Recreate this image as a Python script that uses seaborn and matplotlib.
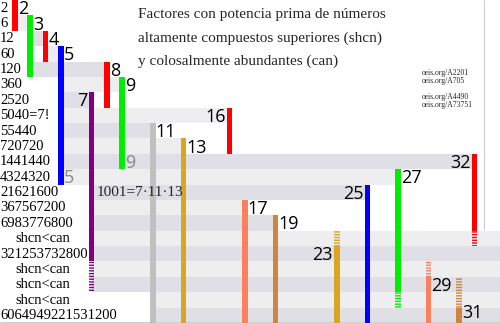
import matplotlib
matplotlib.use("Agg")
import matplotlib.pyplot as plt
import seaborn as sns

# ---------------- data ----------------
row_labels = ["2", "6", "12", "60", "120", "360", "2520", "5040=7!", "55440",
              "720720", "1441440", "4324320", "21621600", "367567200",
              "6983776800", "shcn<can", "321253732800", "shcn<can",
              "shcn<can", "shcn<can", "6064949221531200"]

# prime-power factors (column = factor value)
factor_values = [2, 3, 4, 5, 8, 9, 7, 16, 11, 13, 32, 27, 25, 17, 19, 23, 29, 31]
factor_primes = [2, 3, 2, 5, 2, 3, 7, 2, 11, 13, 2, 3, 5, 17, 19, 23, 29, 31]
solid_first = [0, 1, 2, 3, 4, 5, 6, 7, 8, 9, 10, 11, 12, 13, 14, 16, 18, 20]
solid_last = [1, 4, 3, 11, 6, 10, 16, 9, 20, 20, 14, 18, 20, 20, 20, 20, 20, 20]
dashed_first = [None, None, None, None, None, None, 17, None, None, None, 15, 19,
                None, None, None, 15, 17, 18]
dashed_last = [None, None, None, None, None, None, 18, None, None, None, 15, 19,
               None, None, None, 15, 17, 19]
label_side = ["r", "r", "r", "r", "r", "r", "l", "l", "r", "r", "l", "r", "l",
              "r", "r", "l", "r", "r"]
end_label_factors = [9, 5]

# shaded row bands: from factor column to factor column (None = to edge)
band_rows = list(range(1, 21))
band_from = [2, 3, 4, 3, 5, 5, 5, 5, 5, 5, 5, 7, 7, 7, 7, 7, 7, 7, 11, 11]
band_to = [3, 4, 5, 8, 9, 7, 16, 11, 13, 32, 27, 25, 17, 19, None, None, None,
           None, None, None]

title_lines = ["Factores con potencia prima de números",
               "altamente compuestos superiores (shcn)",
               "y colosalmente abundantes (can)"]
oeis_refs = ["oeis.org/A2201", "oeis.org/A705", "oeis.org/A4490", "oeis.org/A73751"]
note_text = "1001=7·11·13"

prime_colors = {2: "#ff0000", 3: "#00ee00", 5: "#0000ff", 7: "#800080",
                11: "#c0c0c0", 13: "#daa520", 17: "#fa8060", 19: "#cd853f",
                23: "#daa520", 29: "#fa8060", 31: "#cd853f"}
band_colors = ["#dfdfe5", "#eeeef1"]

# ---------------- drawing ----------------
sns.set_theme(style="white")
plt.rcParams["font.family"] = ["Liberation Serif", "DejaVu Serif"]
plt.rcParams["hatch.linewidth"] = 1.0

fig = plt.figure(figsize=(5, 3.23), dpi=100)
ax = fig.add_axes([0, 0, 1, 1])
ax.set_xlim(0.02, 32.66)
ax.set_ylim(21, 0)
ax.axis("off")


def xpos(n):
    return n - 1


BW = 0.37
EDGE = 34
NROWS = len(row_labels)
SANS = ["Open Sans", "DejaVu Sans"]


def label_y(row):
    # baseline near the bottom of the row, kept inside the picture
    return min(row + 0.92, NROWS - 0.3)


for r, a, b in zip(band_rows, band_from, band_to):
    left = xpos(a)
    right = xpos(b) if b is not None else EDGE
    ax.barh(r + 0.5, right - left, left=left, height=1.0,
            color=band_colors[r % 2], linewidth=0, zorder=1)

for n, p, s0, s1, d0, d1, side in zip(factor_values, factor_primes, solid_first,
                                      solid_last, dashed_first, dashed_last,
                                      label_side):
    c = prime_colors[p]
    ax.bar(xpos(n), s1 - s0 + 1, bottom=s0, width=BW, color=c, linewidth=0,
           zorder=3)
    if d0 is not None:
        ax.bar(xpos(n), d1 - d0 + 1, bottom=d0, width=BW, facecolor="none",
               edgecolor=c, hatch="------", linewidth=0, zorder=3)
    if side == "r":
        ax.text(xpos(n) + BW / 2, label_y(s0), str(n), ha="left", va="baseline",
                fontsize=13, family=SANS, color="black", zorder=5)
    else:
        ax.text(xpos(n) - BW / 2 - 0.08, label_y(s0), str(n), ha="right",
                va="baseline", fontsize=13, family=SANS, color="black", zorder=5)

for n in end_label_factors:
    k = factor_values.index(n)
    ax.text(xpos(n) + BW / 2, label_y(solid_last[k]), str(n), ha="left",
            va="baseline", fontsize=13, family=SANS, color="#888888", zorder=5)

for i, lab in enumerate(row_labels):
    x = 1.0 if lab.startswith("shcn") else 0.02
    ax.text(x, i + 0.75, lab, ha="left", va="baseline", fontsize=10.5,
            color="black", zorder=5)

for y, line in zip([1.19, 2.71, 4.23], title_lines):
    ax.text(9.03, y, line, ha="left", va="baseline", fontsize=11, zorder=5)

for y, ref in zip([4.9, 5.42, 6.44, 6.94], oeis_refs):
    ax.text(27.56, y, ref, ha="left", va="baseline", fontsize=5.5, zorder=5)

ax.text(6.35, 12.74, note_text, ha="left", va="baseline", fontsize=11, zorder=6)

ax.vlines(31.61, 0, 14.95, color="#cfcfcf", linewidth=0.8, zorder=2)
ax.hlines(20.94, 0, EDGE, color="#cfcfcf", linewidth=0.8, zorder=2)

fig.savefig("out.png", dpi=100)
